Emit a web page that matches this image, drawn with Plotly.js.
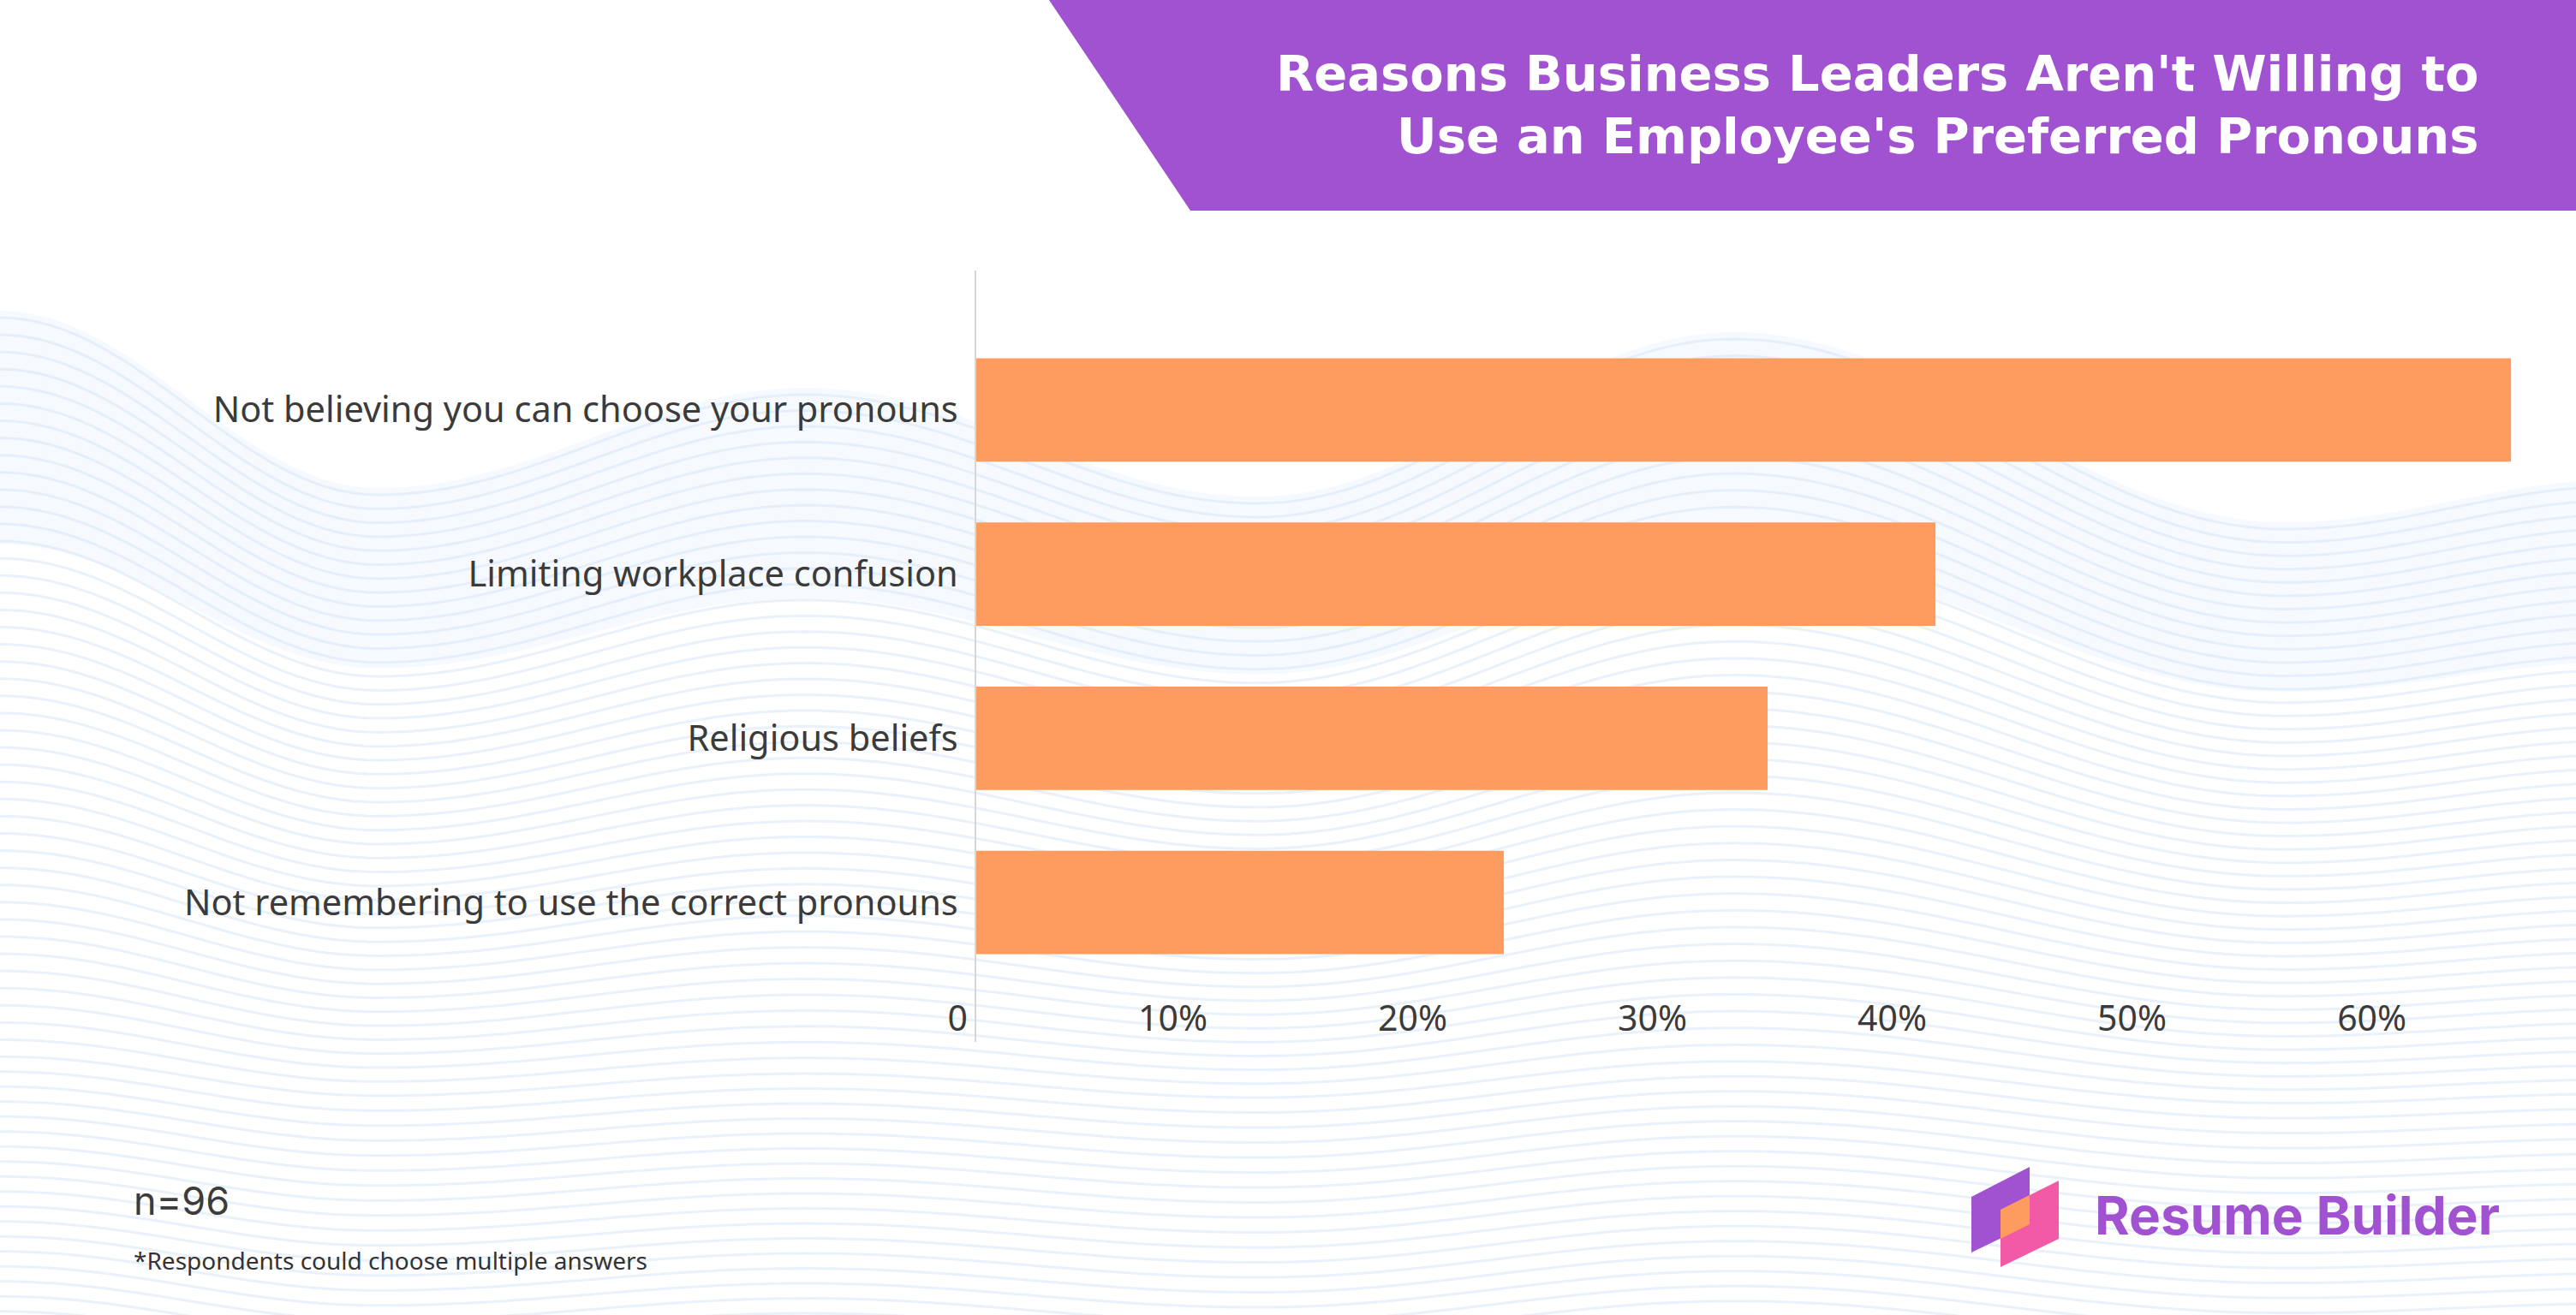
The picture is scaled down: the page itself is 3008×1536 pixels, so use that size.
<!DOCTYPE html>
<html>
<head>
<meta charset="utf-8">
<script src="https://cdn.plot.ly/plotly-3.0.1.min.js"></script>
<style>
html,body{margin:0;padding:0;background:#fff;}
#chart{width:3008px;height:1536px;}
</style>
</head>
<body>
<div id="chart"></div>
<script>
// ---- data ----
const categories = [
  "Not believing you can choose your pronouns",
  "Limiting workplace confusion",
  "Religious beliefs",
  "Not remembering to use the correct pronouns"
];
const values = [64, 40, 33, 22];
const tickVals = [0, 10, 20, 30, 40, 50, 60];
const tickText = ["0", "10%", "20%", "30%", "40%", "50%", "60%"];
const titleLines = ["Reasons Business Leaders Aren't Willing to", "Use an Employee's Preferred Pronouns"];
const sampleNote = "n=96";
const footNote = "*Respondents could choose multiple answers";
const brandName = "Resume Builder";

// ---- layout helpers (pixel -> paper) ----
const W = 3008, H = 1536;
const X = px => px / W;
const Y = py => 1 - py / H;

const shapes = [];

// decorative faint background waves (envelope)
const waveKnots = [[-40,360],[0,363],[441,570],[940,453],[1468,580],[2025,388],[2668,610],[3060,560]];
const waveMean = 505;
function envelope(px) {
  for (let k = 0; k < waveKnots.length - 1; k++) {
    const a = waveKnots[k], b = waveKnots[k + 1];
    if (px >= a[0] && px <= b[0]) {
      const t = (px - a[0]) / (b[0] - a[0]);
      const s = (1 - Math.cos(Math.PI * t)) / 2;
      return a[1] + (b[1] - a[1]) * s;
    }
  }
  return waveMean;
}
function waveY(px, base, damp) {
  return base + damp * (envelope(px) - waveMean);
}
function pathPoints(base, damp, reverse) {
  const pts = [];
  for (let px = -20; px <= W + 20; px += 16) pts.push([px, waveY(px, base, damp)]);
  return reverse ? pts.reverse() : pts;
}
(function () {
  const top = pathPoints(waveMean, 1, false);
  const bot = pathPoints(waveMean + 230, 0.7, true);
  const all = top.concat(bot);
  const d = all.map((p, k) => (k ? "L" : "M") + X(p[0]).toFixed(5) + "," + Y(p[1]).toFixed(5)).join(" ") + " Z";
  shapes.push({type: "path", xref: "paper", yref: "paper", layer: "below", path: d,
    fillcolor: "rgba(236,243,253,0.45)", line: {width: 0}});
})();
for (let i = 0; i < 62; i++) {
  const base = waveMean + 8 + i * 17.5;
  const damp = Math.max(0.22, 1 - i / 55);
  const pts = pathPoints(base, damp, false);
  shapes.push({
    type: "path", xref: "paper", yref: "paper", layer: "below",
    path: pts.map((p, k) => (k ? "L" : "M") + X(p[0]).toFixed(5) + "," + Y(p[1]).toFixed(5)).join(" "),
    line: {color: "rgba(218,231,249,0.6)", width: 3}
  });
}

// title banner
shapes.push({
  type: "path", xref: "paper", yref: "paper", layer: "above",
  path: `M${X(1225)},${Y(0)} L${X(3008)},${Y(0)} L${X(3008)},${Y(246)} L${X(1390)},${Y(246)} Z`,
  fillcolor: "#A052D0", line: {width: 0}
});

// logo icon
function poly(pts, color) {
  shapes.push({
    type: "path", xref: "paper", yref: "paper", layer: "above",
    path: pts.map((p, k) => (k ? "L" : "M") + X(p[0]) + "," + Y(p[1])).join(" ") + " Z",
    fillcolor: color, line: {width: 0}
  });
}
poly([[2302,1398],[2370,1363],[2370,1430],[2302,1463]], "#A052D0");
poly([[2336,1413],[2404,1379],[2404,1447],[2336,1480]], "#F25AA6");
poly([[2336,1413],[2370,1396],[2370,1430],[2336,1447]], "#FE9C5F");

const annotations = [
  {text: titleLines[0], x: X(2897), y: Y(86), xref: "paper", yref: "paper", xanchor: "right", yanchor: "middle",
   showarrow: false, font: {family: "DejaVu Sans", size: 57.5, color: "#ffffff", weight: 700}},
  {text: titleLines[1], x: X(2897), y: Y(159), xref: "paper", yref: "paper", xanchor: "right", yanchor: "middle",
   showarrow: false, font: {family: "DejaVu Sans", size: 57.5, color: "#ffffff", weight: 700}},
  {text: sampleNote, x: X(154), y: Y(1402), xref: "paper", yref: "paper", xanchor: "left", yanchor: "middle",
   showarrow: false, font: {family: "Inter", size: 45, color: "#3c3c3c"}},
  {text: footNote, x: X(154), y: Y(1472), xref: "paper", yref: "paper", xanchor: "left", yanchor: "middle",
   showarrow: false, font: {family: "Noto Sans", size: 28, color: "#333333"}},
  {text: brandName, x: X(2444), y: Y(1419), xref: "paper", yref: "paper", xanchor: "left", yanchor: "middle",
   showarrow: false, font: {family: "Inter", size: 62, color: "#A052D0", weight: 700}}
];

const trace = {
  type: "bar",
  orientation: "h",
  y: categories,
  x: values,
  width: 0.63,
  marker: {color: "#FE9C5F", line: {width: 0}},
  hoverinfo: "x+y"
};

const layout = {
  width: W, height: H,
  margin: {l: 0, r: 0, t: 0, b: 0, pad: 0},
  paper_bgcolor: "#ffffff",
  plot_bgcolor: "rgba(0,0,0,0)",
  showlegend: false,
  font: {family: "Noto Sans", color: "#3b3b3b"},
  xaxis: {
    domain: [X(1140), 1],
    range: [0, 66.71],
    anchor: "free",
    position: Y(1162),
    tickmode: "array",
    tickvals: tickVals,
    ticktext: tickText,
    ticks: "",
    ticklabelposition: "outside left",
    ticklabelshift: -10,
    tickfont: {family: "Noto Sans", size: 41, color: "#3b3b3b"},
    showgrid: false, zeroline: false, showline: false,
    fixedrange: true
  },
  yaxis: {
    type: "category",
    categoryorder: "array",
    categoryarray: categories,
    range: [3.849, -0.849],
    domain: [Y(1217), Y(316)],
    anchor: "x",
    ticks: "",
    ticklabelstandoff: 11,
    tickfont: {family: "Noto Sans", size: 41.5, color: "#3b3b3b"},
    showgrid: false, zeroline: false,
    showline: true, linecolor: "#d6d6d6", linewidth: 2,
    fixedrange: true
  },
  shapes: shapes,
  annotations: annotations
};

Plotly.newPlot("chart", [trace], layout, {displayModeBar: false, staticPlot: true});
</script>
</body>
</html>
